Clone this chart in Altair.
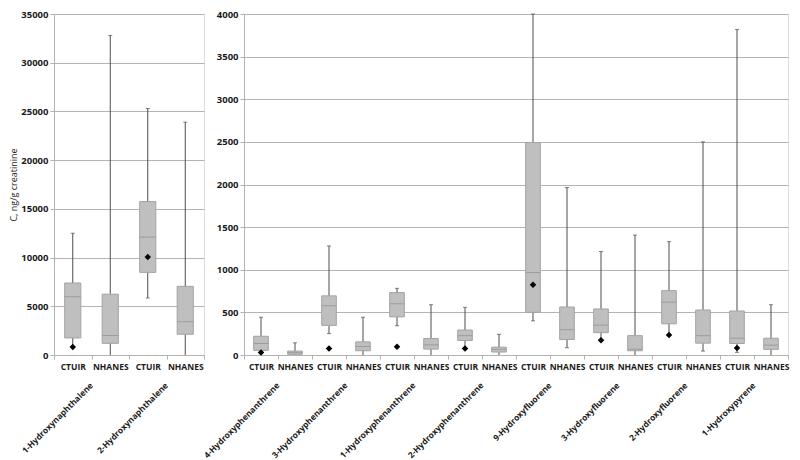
import altair as alt
import pandas as pd

groups = ["CTUIR", "NHANES"]

# ---- left panel (naphthalenes), ng/g creatinine ----
left_compounds = ["1-Hydroxynaphthalene", "2-Hydroxynaphthalene"]
left_low = [800, 0, 5850, 0]
left_q1 = [1750, 1200, 8480, 2130]
left_med = [5980, 2000, 12100, 3420]
left_q3 = [7390, 6240, 15750, 7050]
left_high = [12500, 32800, 25300, 23900]
left_mean = [820, None, 10050, None]

# ---- right panel, ng/g creatinine ----
right_compounds = [
    "4-Hydroxyphenanthrene", "3-Hydroxyphenanthrene", "1-Hydroxyphenanthrene",
    "2-Hydroxyphenanthrene", "9-Hydroxyfluorene", "3-Hydroxyfluorene",
    "2-Hydroxyfluorene", "1-Hydroxypyrene",
]
right_low = [30, 0, 251, 0, 343, 0, 85, 0, 401, 85, 175, 0, 240, 46, 31, 0]
right_q1 = [54, 8, 347, 50, 447, 69, 170, 35, 501, 181, 262, 50, 366, 139, 135, 66]
right_med = [135, 27, 578, 100, 601, 119, 227, 66, 967, 297, 351, 69, 620, 227, 197, 116]
right_q3 = [220, 46, 694, 154, 732, 193, 293, 92, 2493, 563, 540, 227, 755, 528, 516, 197]
right_high = [443, 143, 1279, 443, 782, 590, 559, 243, 4000, 1965, 1214, 1407, 1329, 2500, 3819, 590]
right_mean = [30, None, 77, None, 96, None, 77, None, 825, None, 173, None, 235, None, 81, None]

FONT = "Open Sans"
BOX_FILL = "#bfbfbf"
BOX_STROKE = "#a3a3a3"
MED_COLOR = "#8f8f8f"
WHISKER = "#4d4d4d"


def panel(compounds, low, q1, med, q3, high, mean, width, height, ymax, ystep, ytitle):
    keys = [f"{c}|{g}" for c in compounds for g in groups]
    df = pd.DataFrame({"key": keys, "low": low, "q1": q1, "med": med,
                       "q3": q3, "high": high, "mean": mean})
    lab = pd.DataFrame({"key": [f"{c}|CTUIR" for c in compounds], "compound": compounds})

    xscale = alt.Scale(domain=keys, paddingInner=0, paddingOuter=0)
    yscale = alt.Scale(domain=[0, ymax], nice=False)
    xaxis = alt.Axis(labelExpr="split(datum.label, '|')[1]", tickBand="extent",
                     labelAngle=0, grid=False, tickSize=4, labelPadding=3,
                     labelFont=FONT, labelFontSize=8.5, labelFontWeight="bold",
                     labelColor="#1a1a1a", domainColor="#b3b3b3", tickColor="#b3b3b3")
    yaxis = alt.Axis(values=list(range(0, ymax + 1, ystep)), format="d",
                     gridColor="#b3b3b3", domainColor="#b3b3b3", tickColor="#b3b3b3",
                     tickSize=4, labelPadding=2, labelFont=FONT, labelFontSize=9.5,
                     labelFontWeight="bold", labelColor="#1a1a1a",
                     titleFont=FONT, titleFontSize=9, titleFontWeight="normal",
                     titleColor="#1a1a1a", titlePadding=2)

    X = lambda **kw: alt.X("key:N", scale=xscale, title=None, **kw)
    band = width / len(keys)
    bw = band * 0.43

    base = alt.Chart(df)
    whisk = base.mark_rule(color=WHISKER, strokeWidth=1).encode(
        x=X(axis=xaxis),
        y=alt.Y("low:Q", scale=yscale, axis=yaxis, title=ytitle),
        y2="high:Q",
    )
    box = base.mark_bar(width=bw, fill=BOX_FILL, stroke=BOX_STROKE, strokeWidth=1).encode(
        x=X(), y=alt.Y("q1:Q", scale=yscale), y2="q3:Q")
    medl = base.mark_tick(size=bw, thickness=1, color=MED_COLOR).encode(
        x=X(), y=alt.Y("med:Q", scale=yscale))
    cap_hi = base.mark_tick(size=4, thickness=1, color=WHISKER).encode(
        x=X(), y=alt.Y("high:Q", scale=yscale))
    cap_lo = base.mark_tick(size=4, thickness=1, color=WHISKER).transform_filter(
        "datum.low > 0").encode(x=X(), y=alt.Y("low:Q", scale=yscale))
    meanp = base.mark_point(shape="diamond", filled=True, color="black", size=42,
                            opacity=1).transform_filter("isValid(datum.mean)").encode(
        x=X(), y=alt.Y("mean:Q", scale=yscale))
    text = alt.Chart(lab).mark_text(angle=315, align="right", baseline="middle",
                                    font=FONT, fontSize=8.4, fontWeight="bold",
                                    color="#1a1a1a").encode(
        x=X(bandPosition=1), y=alt.value(height + 29), text="compound:N")

    return alt.layer(whisk, box, medl, cap_hi, cap_lo, meanp, text).properties(
        width=width, height=height)


left = panel(left_compounds, left_low, left_q1, left_med, left_q3, left_high, left_mean,
             150, 341, 35000, 5000, "C, ng/g creatinine")
right = panel(right_compounds, right_low, right_q1, right_med, right_q3, right_high, right_mean,
              544, 341, 4000, 500, None)

chart = alt.hconcat(left, right, spacing=40, bounds="flush").properties(
    padding={"left": 1, "top": 0, "right": 0, "bottom": 0}
).configure_view(stroke=None).configure(background="white")

chart.save("out.html", embed_options={"renderer": "svg", "actions": False})
